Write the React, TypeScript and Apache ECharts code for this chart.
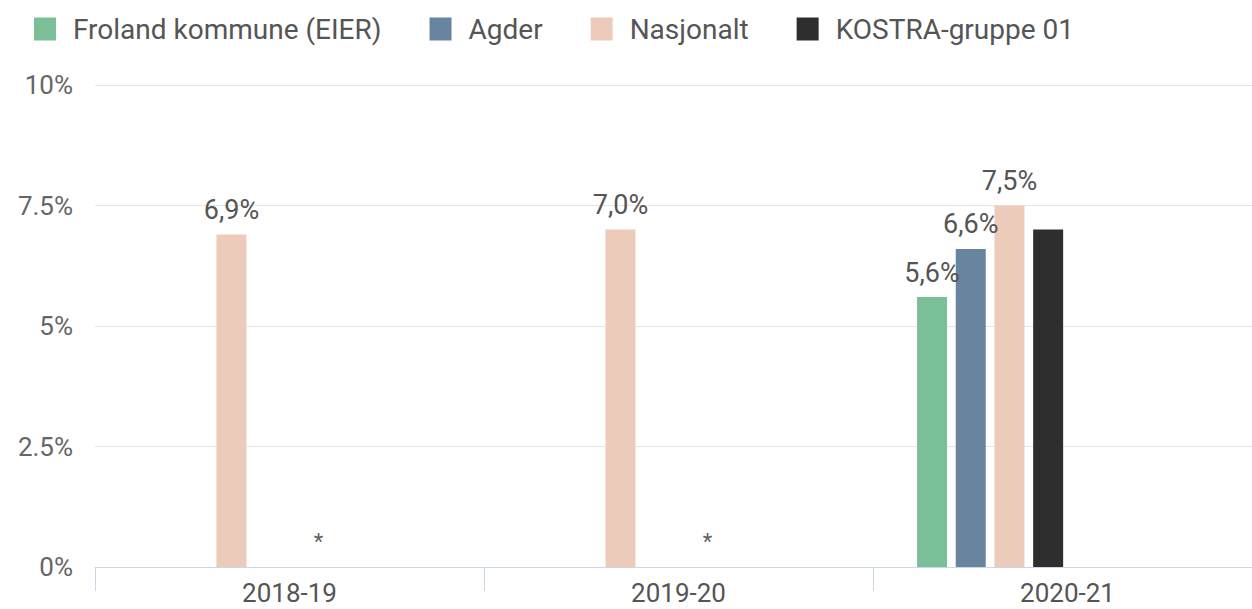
import React, { useEffect, useRef } from "react";
import * as echarts from "echarts";

const categories = ["2018-19", "2019-20", "2020-21"];
const froland = [null, null, 5.6];
const agder = [null, null, 6.6];
const nasjonalt = [6.9, 7.0, 7.5];
const kostra = [null, null, 7.0];
const missingMarks = [0, 0, null];
const yTicks = [0, 2.5, 5, 7.5, 10];

const FONT = "Roboto, 'Open Sans', sans-serif";

export default function App() {
  const ref = useRef<HTMLDivElement>(null);
  useEffect(() => {
    const chart = echarts.init(ref.current!, undefined, { renderer: "svg" });
    const label = {
      show: true,
      position: "top",
      distance: 11,
      formatter: (p: any) => (p.value == null ? "" : Number(p.value).toFixed(1).replace(".", ",") + "%"),
      fontFamily: FONT,
      fontSize: 27,
      color: "#555",
    };
    const barBase = { type: "bar", barWidth: 30, barGap: "29%" };
    const hidden = (n: string) => ({ ...barBase, name: n, data: [null, null, null] });
    chart.setOption({
      animation: false,
      backgroundColor: "#fff",
      textStyle: { fontFamily: FONT },
      legend: {
        data: ["Froland kommune (EIER)", "Agder", "Nasjonalt", "KOSTRA-gruppe 01"],
        left: 29,
        top: 10,
        icon: "rect",
        itemWidth: 22,
        itemHeight: 23,
        itemGap: 48,
        textStyle: { fontFamily: FONT, fontSize: 28, color: "#555", padding: [0, 0, 0, 12] },
      },
      grid: { left: 95, right: 0, top: 85, bottom: 42, containLabel: false },
      xAxis: {
        type: "category",
        data: categories,
        axisLine: { lineStyle: { color: "#ccd6eb", width: 1 } },
        axisTick: { show: true, length: 24, lineStyle: { color: "#ccd6eb" } },
        axisLabel: { fontFamily: FONT, fontSize: 26, lineHeight: 22, color: "#555", margin: 15 },
      },
      yAxis: {
        type: "value",
        min: yTicks[0],
        max: yTicks[yTicks.length - 1],
        interval: yTicks[1] - yTicks[0],
        axisLine: { show: false },
        axisTick: { show: false },
        splitLine: { lineStyle: { color: "#e6e6e6", width: 1 } },
        axisLabel: {
          fontFamily: FONT,
          fontSize: 26,
          color: "#666",
          margin: 22,
          formatter: (v: number) => v + "%",
        },
      },
      series: [
        { ...barBase, name: "Froland kommune (EIER)", data: froland, itemStyle: { color: "#7bbf98" }, label },
        { ...barBase, name: "Agder", data: agder, itemStyle: { color: "#68849e" }, label },
        { ...barBase, name: "Nasjonalt", data: nasjonalt, itemStyle: { color: "#edcbbb" }, label },
        { ...barBase, name: "KOSTRA-gruppe 01", data: kostra, itemStyle: { color: "#2e2e2e" }, label: { show: false } },
        hidden("h1"),
        hidden("h2"),
        hidden("h3"),
        hidden("h4"),
        {
          type: "scatter",
          name: "mangler",
          data: missingMarks,
          symbolSize: 0,
          silent: true,
          label: {
            show: true,
            position: "inside",
            offset: [29, -26],
            formatter: "*",
            fontFamily: FONT,
            fontSize: 22,
            color: "#333",
          },
        },
      ],
    });
    return () => chart.dispose();
  }, []);
  return (
    <div style={{ position: "absolute", left: 0, top: 0, width: 1252, height: 609, overflow: "hidden", background: "#fff" }}>
      <div ref={ref} style={{ width: 1262, height: 609 }} />
    </div>
  );
}
